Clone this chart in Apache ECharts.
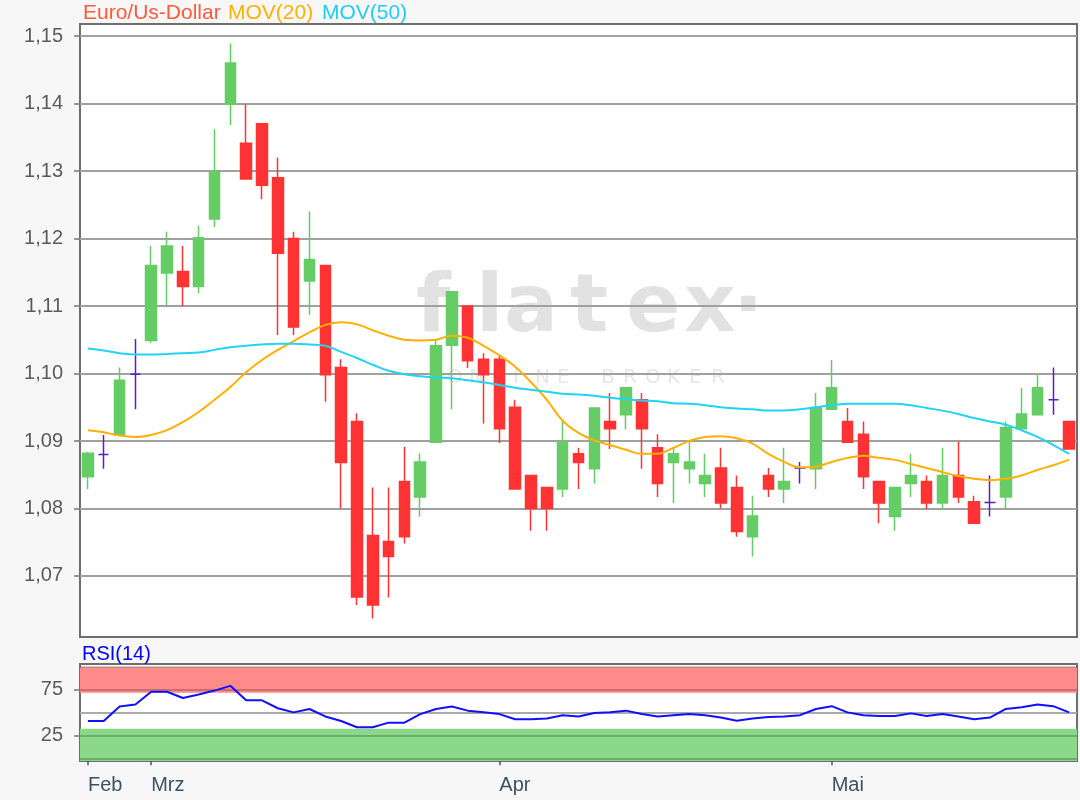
<!DOCTYPE html>
<html><head><meta charset="utf-8">
<script src="https://cdn.jsdelivr.net/npm/echarts@6/dist/echarts.min.js"></script>
<style>html,body{margin:0;padding:0;background:#f7f7f7;}#c{width:1080px;height:800px;}</style>
</head><body><div id="c"></div>
<script>
const dates = ['2020-02-25','2020-02-26','2020-02-27','2020-02-28',
 '2020-03-02','2020-03-03','2020-03-04','2020-03-05','2020-03-06','2020-03-09','2020-03-10','2020-03-11','2020-03-12','2020-03-13',
 '2020-03-16','2020-03-17','2020-03-18','2020-03-19','2020-03-20','2020-03-23','2020-03-24','2020-03-25','2020-03-26','2020-03-27','2020-03-30','2020-03-31',
 '2020-04-01','2020-04-02','2020-04-03','2020-04-06','2020-04-07','2020-04-08','2020-04-09','2020-04-13','2020-04-14','2020-04-15','2020-04-16','2020-04-17',
 '2020-04-20','2020-04-21','2020-04-22','2020-04-23','2020-04-24','2020-04-27','2020-04-28','2020-04-29','2020-04-30',
 '2020-05-01','2020-05-04','2020-05-05','2020-05-06','2020-05-07','2020-05-08','2020-05-11','2020-05-12','2020-05-13','2020-05-14','2020-05-15',
 '2020-05-18','2020-05-19','2020-05-20','2020-05-21','2020-05-22'];
const monthLabels = ['Feb','Mrz','Apr','Mai'];
const monthStarts = [0,4,26,47];

const open = [1.0847,1.0880,1.0909,1.0999,1.1049,1.1149,1.1151,1.1129,1.1229,1.1399,
 1.1341,1.1370,1.1290,1.1200,1.1137,1.1160,1.1009,1.0929,1.0760,1.0751,
 1.0840,1.0817,1.0898,1.1042,1.1100,1.1021,1.1021,1.0950,1.0849,1.0831,
 1.0829,1.0881,1.0859,1.0929,1.0939,1.0961,1.0890,1.0868,1.0859,1.0837,
 1.0860,1.0831,1.0758,1.0849,1.0829,1.0860,1.0859,1.0947,1.0929,1.0910,
 1.0840,1.0788,1.0837,1.0840,1.0808,1.0849,1.0810,1.0809,1.0817,1.0918,
 1.0939,1.0961,1.0929];
const close = [1.0882,1.0880,1.0990,1.0999,1.1160,1.1189,1.1129,1.1201,1.1298,1.1460,
 1.1288,1.1279,1.1178,1.1069,1.1169,1.0998,1.0868,1.0669,1.0657,1.0729,
 1.0758,1.0869,1.1041,1.1121,1.1019,1.0998,1.0918,1.0829,1.0800,1.0800,
 1.0899,1.0868,1.0949,1.0918,1.0979,1.0918,1.0837,1.0881,1.0869,1.0849,
 1.0808,1.0766,1.0789,1.0829,1.0840,1.0860,1.0949,1.0979,1.0898,1.0847,
 1.0808,1.0831,1.0849,1.0808,1.0849,1.0817,1.0778,1.0809,1.0920,1.0940,
 1.0979,1.0961,1.0888];
const low = [1.0829,1.0859,1.0908,1.0947,1.1045,1.1100,1.1100,1.1119,1.1217,1.1368,
 1.1287,1.1258,1.1057,1.1057,1.1087,1.0958,1.0800,1.0657,1.0637,1.0668,
 1.0748,1.0788,1.0897,1.0947,1.1008,1.0926,1.0897,1.0828,1.0767,1.0767,
 1.0817,1.0829,1.0837,1.0888,1.0917,1.0859,1.0817,1.0808,1.0837,1.0817,
 1.0800,1.0758,1.0729,1.0817,1.0808,1.0837,1.0829,1.0946,1.0897,1.0829,
 1.0778,1.0767,1.0817,1.0799,1.0799,1.0808,1.0777,1.0788,1.0799,1.0917,
 1.0938,1.0939,1.0887];
const high = [1.0884,1.0909,1.1009,1.1051,1.1189,1.1210,1.1189,1.1219,1.1362,1.1489,
 1.1399,1.1371,1.1320,1.1210,1.1240,1.1161,1.1021,1.0941,1.0831,1.0831,
 1.0891,1.0882,1.1050,1.1122,1.1101,1.1030,1.1027,1.0961,1.0850,1.0832,
 1.0930,1.0890,1.0950,1.0971,1.0980,1.0971,1.0910,1.0890,1.0899,1.0881,
 1.0890,1.0849,1.0819,1.0860,1.0890,1.0869,1.0971,1.1020,1.0949,1.0929,
 1.0841,1.0832,1.0881,1.0849,1.0890,1.0899,1.0819,1.0849,1.0929,1.0979,
 1.1000,1.1009,1.0930];
const ma20 = [1.0916,1.0913,1.0908,1.0906,1.0909,1.0916,1.0928,1.0943,1.0961,1.0980,
 1.1002,1.1020,1.1035,1.1048,1.1061,1.1072,1.1076,1.1073,1.1064,1.1056,
 1.1050,1.1049,1.1050,1.1056,1.1053,1.1041,1.1027,1.1010,1.0987,1.0961,
 1.0930,1.0912,1.0901,1.0894,1.0887,1.0881,1.0881,1.0890,1.0900,1.0906,
 1.0907,1.0904,1.0896,1.0881,1.0869,1.0861,1.0862,1.0869,1.0875,1.0878,
 1.0875,1.0872,1.0866,1.0860,1.0854,1.0848,1.0844,1.0842,1.0844,1.0849,
 1.0857,1.0864,1.0872];
const ma50 = [1.1037,1.1034,1.1030,1.1028,1.1028,1.1029,1.1030,1.1031,1.1035,1.1039,
 1.1041,1.1043,1.1044,1.1044,1.1043,1.1041,1.1032,1.1023,1.1013,1.1004,
 1.0999,1.0996,1.0994,1.0993,1.0990,1.0987,1.0983,1.0979,1.0976,1.0973,
 1.0970,1.0969,1.0967,1.0964,1.0962,1.0960,1.0959,1.0956,1.0955,1.0953,
 1.0950,1.0948,1.0947,1.0945,1.0945,1.0947,1.0950,1.0953,1.0955,1.0955,
 1.0955,1.0955,1.0953,1.0949,1.0945,1.0940,1.0934,1.0929,1.0924,1.0916,
 1.0906,1.0894,1.0881];
const rsi = [40.9,40.9,56.8,59.1,73.0,73.0,66.2,70.1,74.3,79.5,
 63.6,63.6,54.9,50.4,54.1,45.9,40.9,34.1,34.1,39.1,
 39.1,48.5,54.1,56.8,52.3,50.4,48.5,42.8,42.8,43.6,
 47.3,45.9,49.6,50.4,52.3,48.5,45.9,47.3,48.5,47.3,
 44.7,41.3,43.6,45.4,45.9,47.3,54.1,57.2,50.4,47.3,
 46.5,46.5,49.3,46.5,48.5,45.9,42.8,44.7,54.1,56.1,
 59.1,57.2,50.4];
const priceTicks = [1.07,1.08,1.09,1.10,1.11,1.12,1.13,1.14,1.15];
const rsiTicks = [25,75];
const rsiBandLines = [0,25,75,100];
const rsiMid = 50;
const overbought = [72,100];
const oversold = [-3,32.5];

const FONT = '"Liberation Sans", Arial, sans-serif';
const UP = '#66cc66', DOWN = '#ff3333', DOJI = '#5020d0';

const candleData = dates.map((d,i) => {
  const item = {value:[open[i], close[i], low[i], high[i]]};
  if (open[i] === close[i]) item.itemStyle = {color:DOJI,color0:DOJI,borderColor:DOJI,borderColor0:DOJI};
  return item;
});

const chart = echarts.init(document.getElementById('c'), null, {renderer:'canvas'});

function spaced(str, x0, pitch, y, font, fill) {
  return str.split('').map((ch,i) => ({type:'text', z:1, silent:true,
    style:{text:ch, x:x0+i*pitch, y:y, font:font, fill:fill, textAlign:'left', textVerticalAlign:'middle'}}));
}
const wm = [];
const flatexLetters = ['f','l','a','t','e','x','\u00b7'];
const flatexX = [416,476,504,570,626,684,733];
flatexLetters.forEach((ch,i)=>wm.push({type:'text', z:1, silent:true,
  style:{text:ch, x:flatexX[i], y:310, font:'bold 80px "DejaVu Sans", sans-serif', fill:'#e2e2e2', textAlign:'left', textVerticalAlign:'middle'}}));
wm.push(...spaced('ONLINE BROKER', 447, 22, 378, '20px "DejaVu Sans", sans-serif', '#e6e6e6'));

const option = {
  animation:false,
  backgroundColor:'#f7f7f7',
  textStyle:{fontFamily:FONT},
  graphic:[
    ...wm,
    {type:'text', left:83, top:3, style:{text:'Euro/Us-Dollar', fill:'#ff5a3c', font:'21px '+FONT}},
    {type:'text', left:228, top:3, style:{text:'MOV(20)', fill:'#ffb000', font:'21px '+FONT}},
    {type:'text', left:322, top:3, style:{text:'MOV(50)', fill:'#22ccf5', font:'21px '+FONT}},
    {type:'text', left:82, top:644, style:{text:'RSI(14)', fill:'#0000ff', font:'20px '+FONT}}
  ],
  grid:[
    {left:80, right:3, top:24, height:613, show:true, backgroundColor:'#ffffff', borderColor:'#6e6e6e', borderWidth:2},
    {left:80, right:3, top:664, height:97, show:true, backgroundColor:'#ffffff', borderColor:'#6e6e6e', borderWidth:2}
  ],
  xAxis:[
    {type:'category', gridIndex:0, data:dates, axisLine:{show:false}, axisTick:{show:false}, axisLabel:{show:false}, splitLine:{show:false}},
    {type:'category', gridIndex:1, data:dates, axisLine:{show:false},
      axisTick:{show:true, alignWithLabel:true, length:7, interval:(i)=>monthStarts.includes(i), lineStyle:{color:'#4a5a6a', width:1.5}},
      axisLabel:{show:true, interval:(i)=>monthStarts.includes(i), formatter:(v,i)=>monthLabels[monthStarts.indexOf(i)] || '',
        align:'left', color:'#3d5166', fontSize:20, fontFamily:FONT, margin:14},
      splitLine:{show:false}}
  ],
  yAxis:[
    {type:'value', gridIndex:0, min:1.06096, max:1.15178, scale:true, splitLine:{show:false}, axisLine:{show:false},
      axisTick:{show:true, customValues:priceTicks, length:6, lineStyle:{color:'#777', width:1.5}},
      axisLabel:{customValues:priceTicks, formatter:(v)=>v.toFixed(2).replace('.',','), color:'#5a5a5a', fontSize:20, fontFamily:FONT, margin:17}},
    {type:'value', gridIndex:1, min:-3, max:103.5, splitLine:{show:false}, axisLine:{show:false},
      axisTick:{show:true, customValues:rsiTicks, length:6, lineStyle:{color:'#777', width:1.5}},
      axisLabel:{customValues:rsiTicks, color:'#5a5a5a', fontSize:20, fontFamily:FONT, margin:17}}
  ],
  series:[
    {type:'line', name:'grid', xAxisIndex:0, yAxisIndex:0, data:dates.map(()=>null), silent:true, z:1, symbol:'none',
      markLine:{silent:true, z:1, symbol:'none', label:{show:false}, lineStyle:{color:'#a0a0a0', width:2, type:'solid'},
        data:priceTicks.map(v=>({yAxis:v}))}},
    {type:'candlestick', name:'Euro/Us-Dollar', xAxisIndex:0, yAxisIndex:0, data:candleData, barWidth:11, z:2,
      itemStyle:{color:UP, color0:DOWN, borderColor:UP, borderColor0:DOWN, borderWidth:1.5}},
    {type:'line', name:'MOV(20)', xAxisIndex:0, yAxisIndex:0, data:ma20, smooth:0.4, symbol:'none', z:3,
      lineStyle:{color:'#ffb000', width:2}},
    {type:'line', name:'MOV(50)', xAxisIndex:0, yAxisIndex:0, data:ma50, smooth:0.4, symbol:'none', z:3,
      lineStyle:{color:'#22d3f5', width:2}},
    {type:'line', name:'RSI(14)', xAxisIndex:1, yAxisIndex:1, data:rsi, symbol:'none', z:5,
      lineStyle:{color:'#1010ff', width:2},
      markArea:{silent:true, z:1, data:[
        [{yAxis:overbought[0], itemStyle:{color:'#ff8a8a'}}, {yAxis:overbought[1]}],
        [{yAxis:oversold[0], itemStyle:{color:'#8ad88a'}}, {yAxis:oversold[1]}]
      ]},
      markLine:{silent:true, z:2, symbol:'none', label:{show:false}, data:[
        ...rsiBandLines.map(v=>({yAxis:v, lineStyle:{color:'rgba(0,0,0,0.2)', width:2, type:'solid'}})),
        {yAxis:rsiMid, lineStyle:{color:'#aaaaaa', width:2, type:'solid'}}
      ]}}
  ]
};
chart.setOption(option);
</script></body></html>
